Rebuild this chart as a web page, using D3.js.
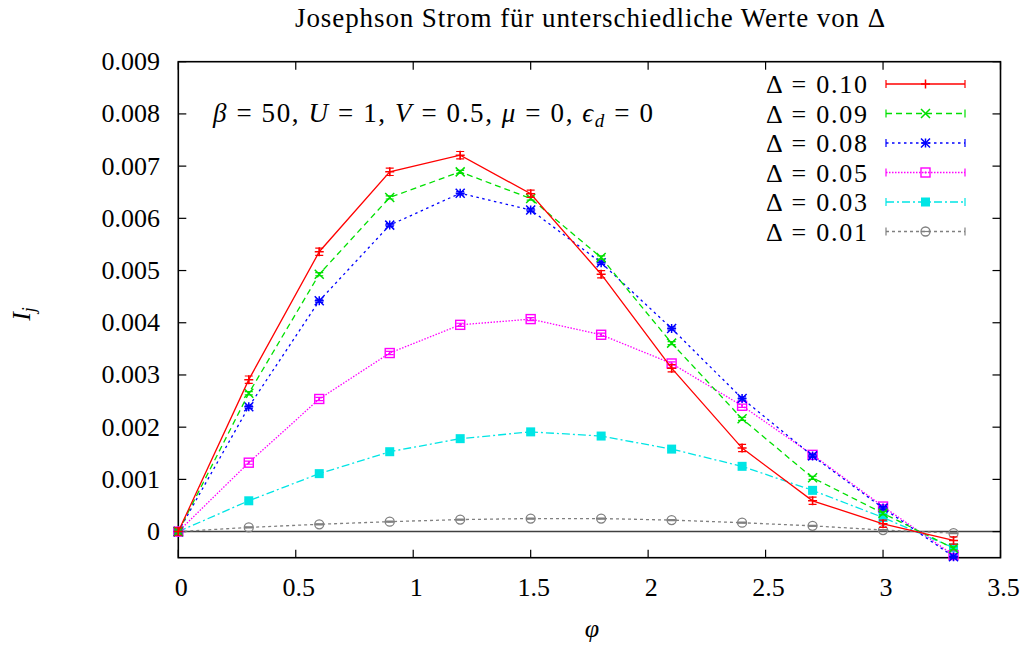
<!DOCTYPE html>
<html>
<head>
<meta charset="utf-8">
<title>Josephson Strom</title>
<style>
  body { margin: 0; background: #fff; }
  text { font-family: "Liberation Serif", "DejaVu Serif", serif; fill: #000; }
  .it { font-style: italic; }
</style>
</head>
<body>
<script src="https://cdn.jsdelivr.net/npm/d3@7"></script>
<script>
// phase values
var phi = [0, 0.3, 0.6, 0.9, 1.2, 1.5, 1.8, 2.1, 2.4, 2.7, 3.0, 3.3];

// Josephson current per Delta
var i010 = [0, 0.00291, 0.00536, 0.00689, 0.00721, 0.00647, 0.00493, 0.00313, 0.00160, 0.00059, 0.00015, -0.00017];
var i009 = [0, 0.00265, 0.00493, 0.00640, 0.00689, 0.00638, 0.00525, 0.00361, 0.00216, 0.00103, 0.00035, -0.00032];
var i008 = [0, 0.00239, 0.00442, 0.00587, 0.00648, 0.00616, 0.00515, 0.00389, 0.00255, 0.00145, 0.00045, -0.00048];
var i005 = [0, 0.00132, 0.00254, 0.00342, 0.00396, 0.00407, 0.00377, 0.00322, 0.00241, 0.00147, 0.00048, -0.00045];
var i003 = [0, 0.00059, 0.00111, 0.00153, 0.00178, 0.00191, 0.00183, 0.00158, 0.00125, 0.00079, 0.00027, -0.00031];
var i001 = [0, 0.00008, 0.00014, 0.00019, 0.00023, 0.00025, 0.00025, 0.00022, 0.00017, 0.00011, 0.00003, -0.00003];

// error bar half widths (roughly constant per series)
var errs = [0.00007, 0.00003, 0.00003, 0.00003, 0.00002, 0.00001];

var labels = ["0.10", "0.09", "0.08", "0.05", "0.03", "0.01"];
var xTicks = [0, 0.5, 1, 1.5, 2, 2.5, 3, 3.5];
var yTicks = [0, 0.001, 0.002, 0.003, 0.004, 0.005, 0.006, 0.007, 0.008, 0.009];

var series = [i010, i009, i008, i005, i003, i001];
var colors = ["#ff0000", "#00e000", "#0000ff", "#ff00ff", "#00e5e5", "#808080"];
var dashes = [null, "6,4", "2.5,3.5", "1.5,1.5", "8,3,2,3", "3,3"];
var markers = ["plus", "cross", "star", "sqdot", "sqfill", "circle"];

var width = 1028, height = 645;
var pL = 178.3, pR = 1000.5, pT = 61.7, pB = 557.7;

var x = d3.scaleLinear().domain([0, 3.5]).range([pL, pR]);
var y = d3.scaleLinear().domain([-0.0005, 0.009]).range([pB, pT]);

var svg = d3.select("body").append("svg")
    .attr("width", width)
    .attr("height", height);

// zero axis
svg.append("line")
    .attr("x1", pL).attr("x2", pR)
    .attr("y1", y(0)).attr("y2", y(0))
    .attr("stroke", "#404040").attr("stroke-width", 1.5);

// ticks (mirrored, inside)
var tl = 8;
xTicks.forEach(function (t) {
    svg.append("line").attr("x1", x(t)).attr("x2", x(t)).attr("y1", pB).attr("y2", pB - tl)
        .attr("stroke", "#000").attr("stroke-width", 1.2);
    svg.append("line").attr("x1", x(t)).attr("x2", x(t)).attr("y1", pT).attr("y2", pT + tl)
        .attr("stroke", "#000").attr("stroke-width", 1.2);
    svg.append("text").attr("x", x(t) + 3).attr("y", 596)
        .attr("text-anchor", "middle").style("font-size", "26px")
        .text(d3.format("")(t));
});
yTicks.forEach(function (t) {
    svg.append("line").attr("x1", pL).attr("x2", pL + tl).attr("y1", y(t)).attr("y2", y(t))
        .attr("stroke", "#000").attr("stroke-width", 1.2);
    svg.append("line").attr("x1", pR).attr("x2", pR - tl).attr("y1", y(t)).attr("y2", y(t))
        .attr("stroke", "#000").attr("stroke-width", 1.2);
    svg.append("text").attr("x", 160).attr("y", y(t) + 8.5)
        .attr("text-anchor", "end").style("font-size", "26px")
        .text(t === 0 ? "0" : d3.format(".3f")(t));
});

// frame
svg.append("rect")
    .attr("x", pL).attr("y", pT)
    .attr("width", pR - pL).attr("height", pB - pT)
    .attr("fill", "none").attr("stroke", "#000").attr("stroke-width", 1.6);

function drawMarker(g, kind, cx, cy, col) {
    var s = 4.5;
    if (kind === "plus" || kind === "star") {
        g.append("path").attr("d", "M" + (cx - s) + "," + cy + "H" + (cx + s) + "M" + cx + "," + (cy - s) + "V" + (cy + s))
            .attr("stroke", col).attr("stroke-width", 1.5);
    }
    if (kind === "cross" || kind === "star") {
        g.append("path").attr("d", "M" + (cx - s) + "," + (cy - s) + "L" + (cx + s) + "," + (cy + s) +
            "M" + (cx - s) + "," + (cy + s) + "L" + (cx + s) + "," + (cy - s))
            .attr("stroke", col).attr("stroke-width", 1.5);
    }
    if (kind === "sqdot") {
        g.append("rect").attr("x", cx - s).attr("y", cy - s).attr("width", 2 * s).attr("height", 2 * s)
            .attr("fill", "none").attr("stroke", col).attr("stroke-width", 1.4);
        g.append("circle").attr("cx", cx).attr("cy", cy).attr("r", 1).attr("fill", col);
    }
    if (kind === "sqfill") {
        g.append("rect").attr("x", cx - s).attr("y", cy - s).attr("width", 2 * s).attr("height", 2 * s)
            .attr("fill", col);
    }
    if (kind === "circle") {
        g.append("circle").attr("cx", cx).attr("cy", cy).attr("r", s)
            .attr("fill", "none").attr("stroke", col).attr("stroke-width", 1.3);
        g.append("line").attr("x1", cx - s).attr("x2", cx + s).attr("y1", cy).attr("y2", cy)
            .attr("stroke", col).attr("stroke-width", 1.2);
    }
}

var line = d3.line()
    .x(function (d) { return x(d[0]); })
    .y(function (d) { return y(d[1]); });

// draw series in reverse so red ends on top
for (var k = series.length - 1; k >= 0; k--) {
    var pts = phi.map(function (p, i) { return [p, series[k][i]]; });
    var g = svg.append("g");
    g.append("path")
        .datum(pts)
        .attr("d", line)
        .attr("fill", "none")
        .attr("stroke", colors[k])
        .attr("stroke-width", 1.3)
        .attr("stroke-dasharray", dashes[k]);
    pts.forEach(function (d) {
        var cx = x(d[0]), y1 = y(d[1] - errs[k]), y2 = y(d[1] + errs[k]);
        g.append("path")
            .attr("d", "M" + cx + "," + y1 + "V" + y2 + "M" + (cx - 4) + "," + y1 + "H" + (cx + 4) +
                "M" + (cx - 4) + "," + y2 + "H" + (cx + 4))
            .attr("stroke", colors[k]).attr("stroke-width", 1.2).attr("fill", "none");
        drawMarker(g, markers[k], cx, y(d[1]), colors[k]);
    });
}

// legend
labels.forEach(function (lab, k) {
    var ly = 84 + k * 29.5;
    svg.append("text").attr("x", 867).attr("y", ly + 9)
        .attr("text-anchor", "end").style("font-size", "26px")
        .attr("textLength", 101).attr("lengthAdjust", "spacing")
        .text("\u0394 = " + lab);
    var lg = svg.append("g");
    lg.append("line").attr("x1", 886).attr("x2", 965).attr("y1", ly).attr("y2", ly)
        .attr("stroke", colors[k]).attr("stroke-width", 1.3).attr("stroke-dasharray", dashes[k]);
    lg.append("path").attr("d", "M886," + (ly - 4) + "V" + (ly + 4) + "M965," + (ly - 4) + "V" + (ly + 4))
        .attr("stroke", colors[k]).attr("stroke-width", 1.2);
    drawMarker(lg, markers[k], 925.5, ly, colors[k]);
});

// parameter annotation
var ann = svg.append("text").attr("x", 213).attr("y", 122).style("font-size", "27px")
    .attr("textLength", 440).attr("lengthAdjust", "spacing");
ann.append("tspan").attr("class", "it").text("\u03b2");
ann.append("tspan").text(" = 50, ");
ann.append("tspan").attr("class", "it").text("U");
ann.append("tspan").text(" = 1, ");
ann.append("tspan").attr("class", "it").text("V");
ann.append("tspan").text(" = 0.5, ");
ann.append("tspan").attr("class", "it").text("\u03bc");
ann.append("tspan").text(" = 0, ");
ann.append("tspan").attr("class", "it").text("\u03f5");
ann.append("tspan").attr("class", "it").attr("dy", 5).style("font-size", "19px").text("d");
ann.append("tspan").attr("dy", -5).text(" = 0");

// title
svg.append("text").attr("x", 590).attr("y", 27)
    .attr("text-anchor", "middle").style("font-size", "27px")
    .attr("textLength", 590).attr("lengthAdjust", "spacing")
    .text("Josephson Strom f\u00fcr unterschiedliche Werte von \u0394");

// axis labels
svg.append("text").attr("x", 592).attr("y", 637)
    .attr("text-anchor", "middle").attr("class", "it").style("font-size", "26px")
    .text("\u03c6");
var yl = svg.append("text").attr("transform", "translate(30,314) rotate(-90)")
    .attr("text-anchor", "middle").style("font-size", "26px");
yl.append("tspan").attr("class", "it").text("I");
yl.append("tspan").attr("class", "it").attr("dy", 5).style("font-size", "18px").text("j");
</script>
</body>
</html>
